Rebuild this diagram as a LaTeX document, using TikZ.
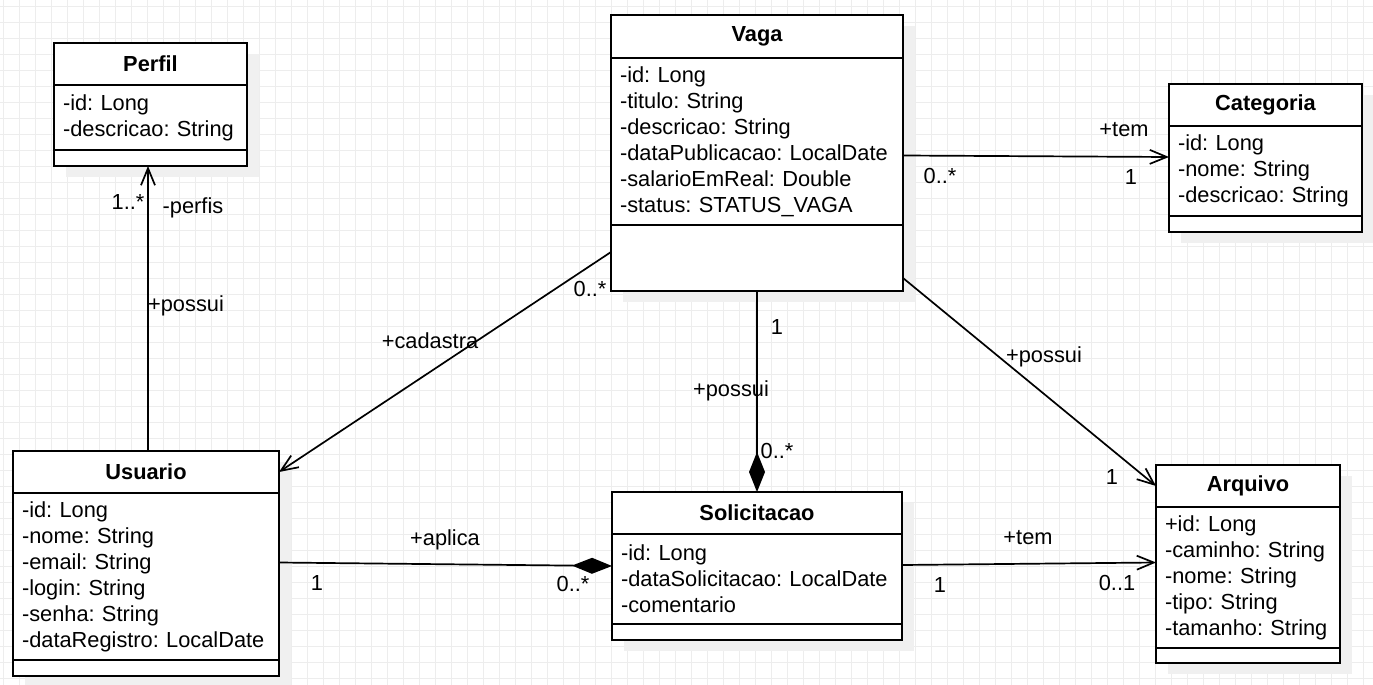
\documentclass[tikz,border=0pt]{standalone}
\usepackage{fontspec}
\setmainfont{Liberation Sans}
\usetikzlibrary{arrows.meta,shadows}
\frenchspacing

\tikzset{
  umlshadow/.style={drop shadow={shadow xshift=12pt,shadow yshift=-11pt,fill=black!6,opacity=1}},
  umltitle/.style={draw,line width=1.7pt,fill=white,anchor=north west,inner sep=0pt,outer sep=0pt,
    font=\fontsize{21.8}{26}\selectfont\bfseries,umlshadow},
  umlattr/.style={draw,line width=1.7pt,fill=white,anchor=north west,align=left,outer sep=0pt,
    inner xsep=9pt,inner ysep=0pt,font=\fontsize{21.8}{26}\selectfont,umlshadow},
  umlop/.style={draw,line width=1.7pt,fill=white,anchor=north west,inner sep=0pt,outer sep=0pt,umlshadow},
  assoc/.style={line width=1.7pt,-{Straight Barb[length=17pt,width=14pt]}},
  comp/.style={line width=1.7pt,-{Diamond[length=40pt,width=16pt]}},
  role/.style={inner sep=0pt,text height=15.6pt,text depth=0pt,font=\fontsize{21.8}{26}\selectfont},
  gridline/.style={black!7,line width=0.8pt}
}

\begin{document}
\begin{tikzpicture}[x=1pt,y=-1pt]
  \useasboundingbox (0,0) rectangle (1373,685);
  \fill[white] (0,0) rectangle (1373,685);
  \foreach \gx in {3,19,...,1371} \draw[gridline] (\gx,0) -- (\gx,685);
  \foreach \gy in {6.5,22.5,...,685} \draw[gridline] (0,\gy) -- (1373,\gy);

  % classes
  \node[umltitle,minimum width=193pt,minimum height=42pt] (perfil) at (54,43) {Perfil};
  \node[umlattr,text width=175pt,minimum height=65pt] (perfil-attr) at (perfil.south west)
    {-id: Long\\-descricao: String};
  \node[umlop,minimum width=193pt,minimum height=16pt] (perfil-op) at (perfil-attr.south west) {};

  \node[umltitle,minimum width=292pt,minimum height=43pt] (vaga) at (611,15) {Vaga};
  \node[umlattr,text width=274pt,minimum height=167pt] (vaga-attr) at (vaga.south west)
    {-id: Long\\-titulo: String\\-descricao: String\\-dataPublicacao: LocalDate\\-salarioEmReal: Double\\-status: STATUS\_VAGA};
  \node[umlop,minimum width=292pt,minimum height=66pt] (vaga-op) at (vaga-attr.south west) {};

  \node[umltitle,minimum width=193pt,minimum height=42pt] (categoria) at (1169,84) {Categoria};
  \node[umlattr,text width=175pt,minimum height=90pt] (categoria-attr) at (categoria.south west)
    {-id: Long\\-nome: String\\-descricao: String};
  \node[umlop,minimum width=193pt,minimum height=16pt] (categoria-op) at (categoria-attr.south west) {};

  \node[umltitle,minimum width=266pt,minimum height=42pt] (usuario) at (13,451) {Usuario};
  \node[umlattr,text width=248pt,minimum height=167pt] (usuario-attr) at (usuario.south west)
    {-id: Long\\-nome: String\\-email: String\\-login: String\\-senha: String\\-dataRegistro: LocalDate};
  \node[umlop,minimum width=266pt,minimum height=16pt] (usuario-op) at (usuario-attr.south west) {};

  \node[umltitle,minimum width=290pt,minimum height=42pt] (solicitacao) at (612,492) {Solicitacao};
  \node[umlattr,text width=272pt,minimum height=90pt] (solicitacao-attr) at (solicitacao.south west)
    {-id: Long\\-dataSolicitacao: LocalDate\\-comentario};
  \node[umlop,minimum width=290pt,minimum height=16pt] (solicitacao-op) at (solicitacao-attr.south west) {};

  \node[umltitle,minimum width=184pt,minimum height=42pt] (arquivo) at (1156,465) {Arquivo};
  \node[umlattr,text width=166pt,minimum height=141pt] (arquivo-attr) at (arquivo.south west)
    {+id: Long\\-caminho: String\\-nome: String\\-tipo: String\\-tamanho: String};
  \node[umlop,minimum width=184pt,minimum height=15pt] (arquivo-op) at (arquivo-attr.south west) {};

  % associations
  \draw[assoc] ([xshift=2pt]usuario.north) -- ([xshift=2pt]usuario.north |- perfil-op.south);
  \draw[assoc] ([yshift=6pt]vaga-op.west) -- (usuario.east);
  \draw[assoc] ([yshift=-14pt]vaga-attr.east) -- ([yshift=14pt]categoria-attr.west);
  \draw[assoc] ([yshift=-20pt]vaga-op.east) -- (arquivo.west);
  \draw[comp] (vaga-op.south) -- (vaga-op.south |- solicitacao.north);
  \draw[comp] ([yshift=14pt]usuario-attr.east) -- ([yshift=13pt]solicitacao-attr.west);
  \draw[assoc] ([yshift=14pt]solicitacao-attr.east) -- ([yshift=15pt]arquivo-attr.west);

  % roles and multiplicities
  \node[role] (m-perfil) at (128,202) {1..*};
  \node[role] (r-perfis) at (193,206) {-perfis};
  \node[role] (r-possui-perfil) at (186,304) {+possui};
  \node[role] (m-cadastra-vaga) at (590,289) {0..*};
  \node[role] (r-cadastra) at (430,341) {+cadastra};
  \node[role] (r-tem-categoria) at (1124,129) {+tem};
  \node[role] (m-tem-vaga) at (940,176) {0..*};
  \node[role] (m-tem-categoria) at (1131,177) {1};
  \node[role] (r-possui-arquivo) at (1044,355) {+possui};
  \node[role] (m-possui-arquivo) at (1112,477) {1};
  \node[role] (m-possui-vaga) at (777,327) {1};
  \node[role] (r-possui-solic) at (731,389) {+possui};
  \node[role] (m-possui-solic) at (777,451) {0..*};
  \node[role] (r-aplica) at (445,538) {+aplica};
  \node[role] (m-aplica-usuario) at (317,583) {1};
  \node[role] (m-aplica-solic) at (573,584) {0..*};
  \node[role] (r-tem-arquivo) at (1028,537) {+tem};
  \node[role] (m-tem-solic) at (940,585) {1};
  \node[role] (m-tem-arquivo) at (1117,583) {0..1};
\end{tikzpicture}
\end{document}
